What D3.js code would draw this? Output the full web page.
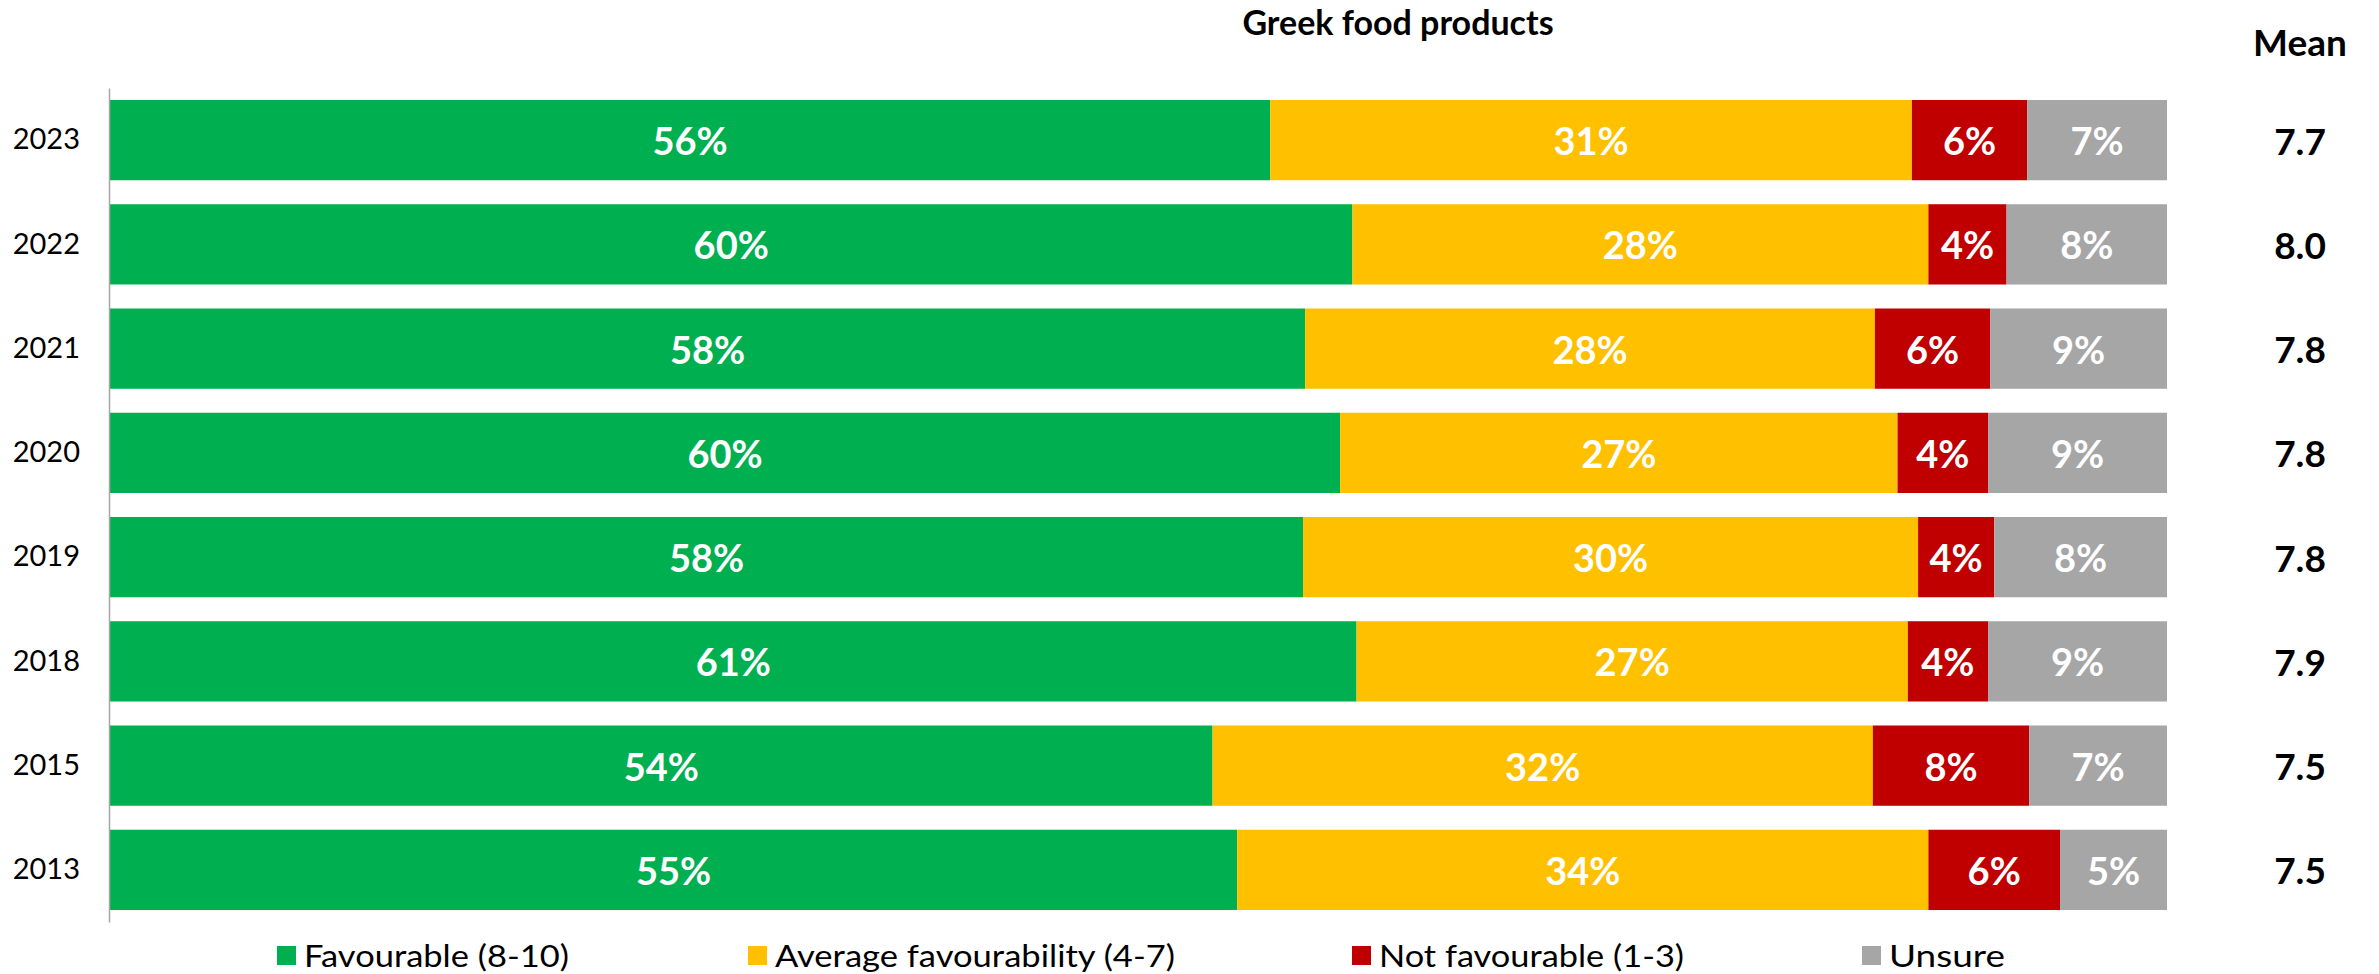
<!DOCTYPE html>
<html>
<head>
<meta charset="utf-8">
<script src="https://cdn.jsdelivr.net/npm/d3@7"></script>
<style>
  body { margin: 0; background: #fff; }
  svg { display: block; }
</style>
</head>
<body>
<svg id="chart" width="2379" height="974"></svg>
<script>
// Survey results: favourability towards Greek food products, by year
const years = ["2023", "2022", "2021", "2020", "2019", "2018", "2015", "2013"];
const favourable    = [56.4, 60.4, 58.1, 59.8, 58.0, 60.6, 53.6, 54.8];
const average       = [31.2, 28.0, 27.7, 27.1, 29.9, 26.8, 32.1, 33.6];
const notFavourable = [5.6, 3.8, 5.6, 4.4, 3.7, 3.9, 7.6, 6.4];
const unsure        = [6.8, 7.8, 8.6, 8.7, 8.4, 8.7, 6.7, 5.2];
const means         = [7.7, 8.0, 7.8, 7.8, 7.8, 7.9, 7.5, 7.5];

const seriesKeys   = ["fav", "avg", "not", "uns"];
const seriesNames  = ["Favourable (8-10)", "Average favourability (4-7)", "Not favourable (1-3)", "Unsure"];
const seriesColors = ["#00B050", "#FFC000", "#C00000", "#A6A6A6"];
const titleText = "Greek food products";
const meanTitle = "Mean";

const rows = years.map((yr, i) => ({
  year: yr, fav: favourable[i], avg: average[i], not: notFavourable[i], uns: unsure[i], mean: means[i]
}));

const svg = d3.select("#chart");
const FONT = "Lato, 'Open Sans', sans-serif";

const x = d3.scaleLinear().domain([0, 100]).range([110, 2167]);
const y = d3.scaleBand().domain(years).range([88, 922]).paddingInner(0.23).paddingOuter(0.115);
const color = d3.scaleOrdinal().domain(seriesKeys).range(seriesColors);

const stacked = d3.stack().keys(seriesKeys)(rows);

// Stacked bars
const layers = svg.append("g").selectAll("g")
  .data(stacked).join("g")
  .attr("fill", d => color(d.key));

layers.selectAll("rect")
  .data(d => d.map(s => ({ s, key: d.key })))
  .join("rect")
  .attr("x", d => x(d.s[0]))
  .attr("y", d => y(d.s.data.year))
  .attr("width", d => x(d.s[1]) - x(d.s[0]))
  .attr("height", y.bandwidth());

// Percentage labels inside segments
layers.selectAll("text")
  .data(d => d.map(s => ({ s, key: d.key })))
  .join("text")
  .attr("x", d => (x(d.s[0]) + x(d.s[1])) / 2)
  .attr("y", d => y(d.s.data.year) + y.bandwidth() / 2)
  .attr("text-anchor", "middle")
  .attr("dominant-baseline", "central")
  .attr("fill", "#fff")
  .style("font-family", FONT)
  .style("font-weight", "700")
  .style("font-size", "38px")
  .text(d => Math.round(d.s[1] - d.s[0]) + "%");

// Category axis
const yAxis = svg.append("g")
  .attr("transform", "translate(109,0)")
  .call(d3.axisLeft(y).tickSize(0).tickSizeOuter(0).tickPadding(29));
yAxis.select(".domain").attr("stroke", "#A6A6A6").attr("stroke-width", 1.5);
yAxis.selectAll("text")
  .attr("fill", "#000")
  .style("font-family", FONT)
  .style("font-size", "29px");

// Title
svg.append("text")
  .attr("x", 1398).attr("y", 35)
  .attr("text-anchor", "middle")
  .style("font-family", FONT).style("font-weight", "700").style("font-size", "34px")
  .text(titleText);

// Mean column
svg.append("text")
  .attr("x", 2300).attr("y", 56)
  .attr("text-anchor", "middle")
  .style("font-family", FONT).style("font-weight", "700").style("font-size", "37px")
  .text(meanTitle);

svg.append("g").selectAll("text")
  .data(rows).join("text")
  .attr("x", 2300)
  .attr("y", d => y(d.year) + y.bandwidth() / 2)
  .attr("text-anchor", "middle")
  .attr("dominant-baseline", "central")
  .style("font-family", FONT).style("font-weight", "700").style("font-size", "37px")
  .text(d => d3.format(".1f")(d.mean));

// Legend
const legendX = [277, 748, 1352, 1862];
const legendTextWidth = [265, 400, 305, 116];
const legend = svg.append("g").selectAll("g")
  .data(seriesKeys).join("g")
  .attr("transform", (d, i) => `translate(${legendX[i]},946)`);
legend.append("rect")
  .attr("width", 19).attr("height", 19)
  .attr("fill", d => color(d));
legend.append("text")
  .attr("x", 27).attr("y", 9)
  .attr("dominant-baseline", "central")
  .attr("textLength", (d, i) => legendTextWidth[i])
  .attr("lengthAdjust", "spacingAndGlyphs")
  .style("font-family", FONT).style("font-size", "31px")
  .text((d, i) => seriesNames[i]);
</script>
</body>
</html>
